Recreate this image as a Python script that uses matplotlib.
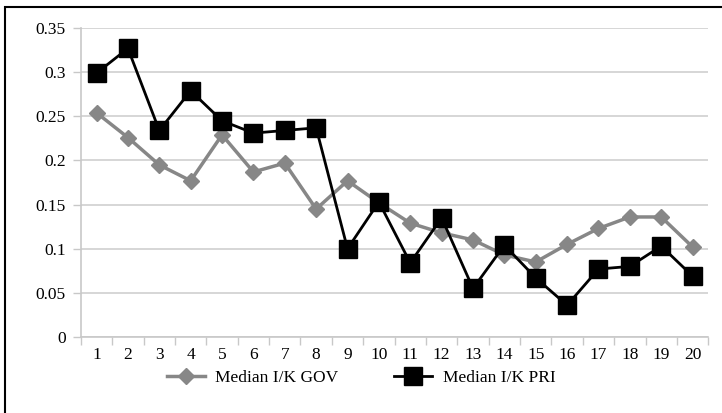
import numpy as np
import matplotlib.pyplot as plt
from matplotlib.patches import Rectangle

plt.rcParams['font.family'] = ['Liberation Serif', 'DejaVu Serif']

periods = [str(i) for i in range(1, 21)]
median_gov = [0.254, 0.226, 0.195, 0.177, 0.229, 0.187, 0.197, 0.145, 0.177, 0.152,
              0.129, 0.118, 0.110, 0.093, 0.085, 0.105, 0.123, 0.136, 0.136, 0.102]
median_pri = [0.299, 0.327, 0.234, 0.279, 0.245, 0.231, 0.234, 0.237, 0.100, 0.153,
              0.084, 0.135, 0.055, 0.104, 0.067, 0.036, 0.077, 0.080, 0.103, 0.069]
y_ticks = [0, 0.05, 0.1, 0.15, 0.2, 0.25, 0.3, 0.35]
y_labels = ['0', '0.05', '0.1', '0.15', '0.2', '0.25', '0.3', '0.35']

fig = plt.figure(figsize=(7.22, 4.13), dpi=100)
ax = fig.add_axes([0.112, 0.184, 0.869, 0.748])

x = np.arange(len(periods))
ax.plot(x, median_gov, color='#878787', lw=2.5, marker='D', ms=8.5,
        label='Median I/K GOV', zorder=3)
ax.plot(x, median_pri, color='black', lw=2, marker='s', ms=13,
        label='Median I/K PRI', zorder=4)

ax.set_xlim(-0.5, len(periods) - 0.5)
ax.set_ylim(0, 0.35)
ax.set_yticks(y_ticks)
ax.set_yticklabels(y_labels, fontsize=12.5)
ax.set_xticks(x)
ax.set_xticklabels(periods, fontsize=12.5)
# category separators on the x axis
ax.set_xticks(np.arange(-0.5, len(periods)), minor=True)
ax.tick_params(axis='x', which='major', length=0, pad=7)
ax.tick_params(axis='x', which='minor', length=6, color='#c8c8c8', width=1)
ax.tick_params(axis='y', length=6, color='#c8c8c8', width=1, pad=5)

ax.grid(axis='y', color='#d0d0d0', lw=1.2)
ax.set_axisbelow(True)
for side in ['top', 'right']:
    ax.spines[side].set_visible(False)
ax.spines['left'].set_color('#c8c8c8')
ax.spines['bottom'].set_color('#c8c8c8')
ax.spines['left'].set_linewidth(1.2)
ax.spines['bottom'].set_linewidth(1.2)

fig.legend(loc='center', bbox_to_anchor=(0.5, 0.085), ncol=2, frameon=False,
           fontsize=12.5, handlelength=2.2, handletextpad=0.6, columnspacing=3.2)

# chart frame
fig.patches.append(Rectangle((5 / 722, -0.1), 1.1, 1 - 7 / 413 + 0.1,
                             transform=fig.transFigure, fill=False,
                             edgecolor='black', lw=1.5))

fig.savefig('out.png', dpi=100)
